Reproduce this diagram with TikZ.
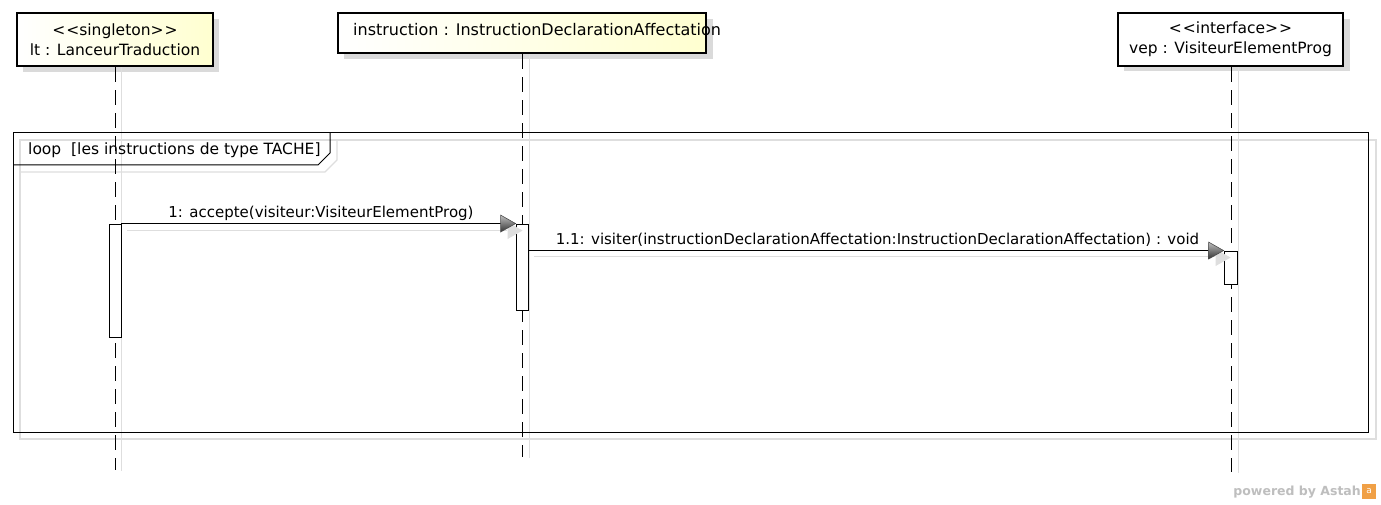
\documentclass[tikz,border=0pt]{standalone}
\usepackage{fontspec}
\setmainfont{DejaVu Sans}
\usetikzlibrary{shadings}
\definecolor{headyellow}{RGB}{255,255,208}
\definecolor{shadowgray}{RGB}{218,218,218}
\definecolor{lightline}{RGB}{222,222,222}
\definecolor{astahgray}{RGB}{190,190,190}
\definecolor{astahorange}{RGB}{240,160,70}
\newcommand{\lt}{\textless\kern1pt\textless}
\newcommand{\gt}{\textgreater\kern1pt\textgreater}
\tikzset{
  txt/.style={font=\fontsize{15}{18}\selectfont, inner sep=0pt},
  widetxt/.style={font=\fontsize{15.5}{18}\selectfont, inner sep=0pt},
  head/.style={draw=black, line width=2.6pt, rectangle, inner sep=0pt, align=center,
    font=\fontsize{15.5}{20}\selectfont},
  yellowhead/.style={head, left color=white, right color=headyellow},
  whitehead/.style={head, fill=white},
  lifeline/.style={draw=black, line width=1pt, dash pattern=on 15pt off 8pt},
  lifeshadow/.style={draw=lightline, line width=1pt},
  actbar/.style={draw=black, fill=white, line width=0.9pt, rectangle, inner sep=0pt},
  msg/.style={draw=black, line width=1pt},
  msgshadow/.style={draw=lightline, line width=1.2pt},
  frameline/.style={draw=black, line width=1pt},
  frameshadow/.style={draw=lightline, line width=1.2pt},
}
\begin{document}
\begin{tikzpicture}[x=1pt, y=-1pt]
\path[use as bounding box, fill=white] (0,0) rectangle (1381,505);

% lifeline head shadows
\fill[shadowgray] (23,19) rectangle (219,72);
\fill[shadowgray] (344,19) rectangle (713,59);
\fill[shadowgray] (1124,19) rectangle (1350,71);

% lifeline shadows
\draw[lifeshadow] (121,66) -- (121,471);
\draw[lifeshadow] (529,53) -- (529,458);
\draw[lifeshadow] (1238,66) -- (1238,473);

% loop frame with its shadow
\draw[frameshadow] (20,140) rectangle (1376,439);
\draw[frameshadow] (20,140) -- (337,140) -- (337,160) -- (325,172) -- (20,172);
\node[frameline, rectangle, minimum width=1355pt, minimum height=299pt, inner sep=0pt] (loopframe) at (690.5,282.5) {};
\draw[frameline] (330,133) -- (330,153) -- (318,165) -- (13,165);
\node[widetxt, anchor=west] (looplabel) at (28,150) {loop\ \ [les instructions de type TACHE]};

% lifeline heads
\node[yellowhead, minimum width=196pt, minimum height=53pt] (lt) at (115,39.5)
  {\lt singleton\gt\\lt : LanceurTraduction};
\node[yellowhead, minimum width=368pt, minimum height=40pt] (instr) at (522,33) {};
\node[font=\fontsize{16}{18}\selectfont, inner sep=0pt, anchor=west] (instrlabel) at (353,30) {instruction : InstructionDeclarationAffectation};
\node[whitehead, minimum width=225pt, minimum height=53pt] (vep) at (1230.5,39.5)
  {\lt interface\gt\\vep : VisiteurElementProg};

% dashed lifelines
\coordinate (ltend) at (115,470);
\coordinate (instrend) at (522,457);
\coordinate (vepend) at (1231,472);
\draw[lifeline] (lt.south -| ltend) -- (ltend);
\draw[lifeline] (instr.south -| instrend) -- (instrend);
\draw[lifeline] (vep.south -| vepend) -- (vepend);

% activation bars
\node[actbar, minimum width=12pt, minimum height=113pt] (act1) at (115,280.5) {};
\node[actbar, minimum width=12pt, minimum height=86pt] (act2) at (522,267) {};
\node[actbar, minimum width=13pt, minimum height=33pt] (act3) at (1230.5,267.5) {};

% message 1: accepte
\draw[msgshadow] ([xshift=6pt, yshift=-7pt]act1.north east) -- ([xshift=-9pt, yshift=-7pt]act2.north west);
\fill[lightline] ([xshift=7pt, yshift=-7pt]act2.north west) -- ++(-15,-8.5) -- ++(0,17) -- cycle;
\draw[msg] (act1.north east) -- (act2.north west);
\shade[top color=gray!50, bottom color=black!80, draw=black!70, line width=0.6pt]
  (act2.north west) -- ++(-15,-8.5) -- ++(0,17) -- cycle;
\node[txt] (m1label) at (321,213) {1: accepte(visiteur:VisiteurElementProg)};

% message 1.1: visiter
\draw[msgshadow] ([xshift=6pt, yshift=-6pt]act2.east |- act3.north) -- ([xshift=-9pt, yshift=-6pt]act3.north west);
\fill[lightline] ([xshift=7pt, yshift=-7pt]act3.north west) -- ++(-15,-8.5) -- ++(0,17) -- cycle;
\draw[msg] (act2.east |- act3.north) -- (act3.north west);
\shade[top color=gray!50, bottom color=black!80, draw=black!70, line width=0.6pt]
  (act3.north west) -- ++(-15,-8.5) -- ++(0,17) -- cycle;
\node[txt] (m2label) at (877.5,240) {1.1: visiter(instructionDeclarationAffectation:InstructionDeclarationAffectation) : void};

% footer
\node[font=\bfseries\fontsize{12.5}{14}\selectfont, text=astahgray, anchor=east, inner sep=0pt] (powered) at (1361,492) {powered by Astah};
\node[fill=astahorange, minimum width=14pt, minimum height=15pt, inner sep=0pt, anchor=west, font=\fontsize{9}{9}\selectfont, text=white] (astahlogo) at (1362,491) {a};
\end{tikzpicture}
\end{document}
